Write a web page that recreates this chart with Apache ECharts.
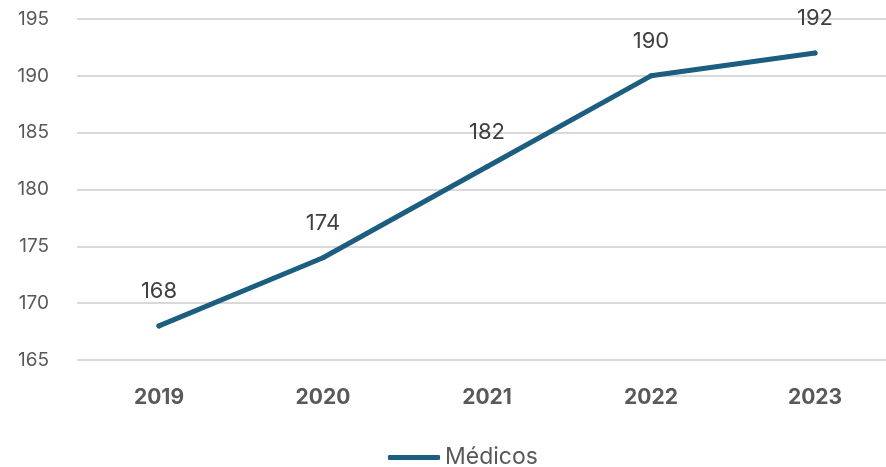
<!DOCTYPE html>
<html><head><meta charset="utf-8">
<script src="https://cdn.jsdelivr.net/npm/echarts@6/dist/echarts.min.js"></script>
<style>html,body{margin:0;padding:0;background:#fff;overflow:hidden}#c{width:897px;height:467px}</style>
</head><body><div id="c"></div>
<script>
const categories = ['2019','2020','2021','2022','2023'];
const medicos = [168,174,182,190,192];
const seriesName = 'Médicos';
const chart = echarts.init(document.getElementById('c'));
chart.setOption({
  animation:false,
  textStyle:{fontFamily:'Inter, "Open Sans", sans-serif'},
  grid:{left:77, top:19, right:0, bottom:107, containLabel:false},
  legend:{top:441, left:383, data:[seriesName], itemWidth:52, itemHeight:5, itemGap:6,
    textStyle:{fontSize:23, color:'#595959', fontFamily:'Inter, sans-serif'},
    icon:'roundRect', itemStyle:{color:'#1b5e7f'}},
  xAxis:{type:'category', data:categories, boundaryGap:true,
    axisLine:{show:false}, axisTick:{show:false},
    axisLabel:{fontSize:21, fontWeight:'bold', color:'#595959', margin:27}},
  yAxis:{type:'value', min:165, max:195, interval:5,
    axisLabel:{fontSize:19, color:'#595959', margin:28},
    splitLine:{lineStyle:{color:'#d9d9d9', width:2}}},
  series:[{name:seriesName, type:'line', data:medicos, symbol:'circle', symbolSize:5, showSymbol:true,
    lineStyle:{color:'#1b5e7f', width:5, cap:'round', join:'round'},
    itemStyle:{color:'#1b5e7f'},
    label:{show:true, position:'top', distance:21, fontSize:22, color:'#404040'}}]
});
</script></body></html>
